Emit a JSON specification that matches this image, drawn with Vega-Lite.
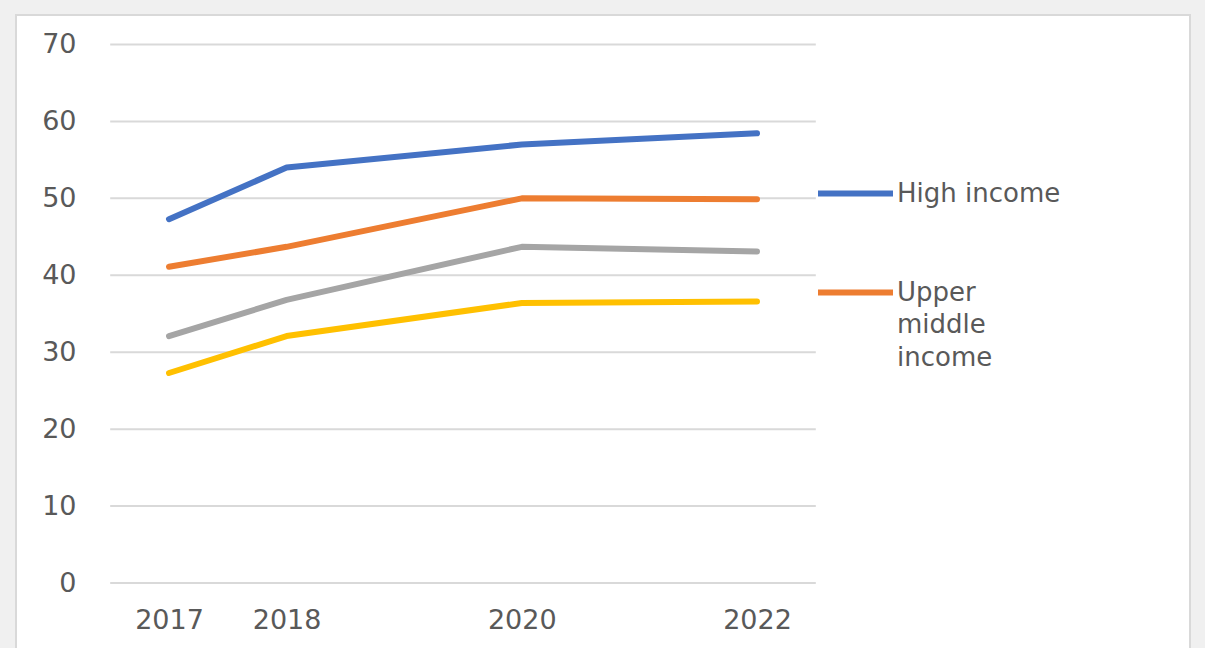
{
  "$schema": "https://vega.github.io/schema/vega-lite/v6.json",
  "width": 1174,
  "height": 636,
  "autosize": {"type": "none"},
  "padding": {"left": 16, "top": 15, "right": 15, "bottom": -3},
  "background": "#f0f0f0",
  "config": {
    "view": {"fill": "white", "stroke": "#d9d9d9", "strokeWidth": 2},
    "font": "DejaVu Sans",
    "style": {"guide-label": {"lineHeight": 32.5}}
  },
  "datasets": {
    "series": [
      {"series": "High income", "year": 2017, "value": 47.3},
      {"series": "High income", "year": 2018, "value": 54.0},
      {"series": "High income", "year": 2020, "value": 57.0},
      {"series": "High income", "year": 2022, "value": 58.45},
      {"series": "Upper middle income", "year": 2017, "value": 41.1},
      {"series": "Upper middle income", "year": 2018, "value": 43.7},
      {"series": "Upper middle income", "year": 2020, "value": 50.0},
      {"series": "Upper middle income", "year": 2022, "value": 49.9},
      {"series": "Lower middle income", "year": 2017, "value": 32.1},
      {"series": "Lower middle income", "year": 2018, "value": 36.8},
      {"series": "Lower middle income", "year": 2020, "value": 43.7},
      {"series": "Lower middle income", "year": 2022, "value": 43.1},
      {"series": "Low income", "year": 2017, "value": 27.3},
      {"series": "Low income", "year": 2018, "value": 32.1},
      {"series": "Low income", "year": 2020, "value": 36.4},
      {"series": "Low income", "year": 2022, "value": 36.6}
    ],
    "grid": [
      {"v": 0}, {"v": 10}, {"v": 20}, {"v": 30}, {"v": 40}, {"v": 50}, {"v": 60}, {"v": 70}
    ]
  },
  "layer": [
    {
      "data": {"name": "grid"},
      "mark": {"type": "rule", "color": "#d9d9d9", "strokeWidth": 2},
      "encoding": {
        "y": {
          "field": "v",
          "type": "quantitative",
          "scale": {"domain": [-8.839, 73.835], "nice": false, "zero": false},
          "axis": {
            "values": [0, 10, 20, 30, 40, 50, 60, 70],
            "title": null,
            "grid": false,
            "domain": false,
            "ticks": false,
            "tickSize": 0,
            "offset": -61,
            "labelPadding": 1,
            "labelFontSize": 27,
            "labelColor": "#595959",
            "labelFont": "DejaVu Sans"
          }
        },
        "x": {
          "datum": 2016.5,
          "type": "quantitative",
          "scale": {"domain": [2015.699, 2025.682], "nice": false, "zero": false},
          "axis": {
            "values": [2017, 2018, 2020, 2022],
            "format": "d",
            "title": null,
            "grid": false,
            "domain": false,
            "ticks": false,
            "tickSize": 0,
            "offset": -68,
            "labelPadding": 24,
            "labelFontSize": 27,
            "labelColor": "#595959",
            "labelFont": "DejaVu Sans"
          }
        },
        "x2": {"datum": 2022.5}
      }
    },
    {
      "data": {"name": "series"},
      "mark": {"type": "line", "strokeWidth": 6, "strokeCap": "round", "strokeJoin": "round"},
      "encoding": {
        "x": {
          "field": "year",
          "type": "quantitative",
          "axis": {
            "values": [2017, 2018, 2020, 2022],
            "format": "d",
            "title": null,
            "grid": false,
            "domain": false,
            "ticks": false,
            "tickSize": 0,
            "offset": -68,
            "labelPadding": 24,
            "labelFontSize": 27,
            "labelColor": "#595959",
            "labelFont": "DejaVu Sans"
          }
        },
        "y": {"field": "value", "type": "quantitative"},
        "color": {
          "field": "series",
          "type": "nominal",
          "scale": {
            "domain": ["High income", "Upper middle income", "Lower middle income", "Low income"],
            "range": ["#4472c4", "#ed7d31", "#a5a5a5", "#ffc000"]
          },
          "legend": {
            "orient": "none",
            "legendX": 799,
            "legendY": 138,
            "title": null,
            "padding": 0,
            "values": ["High income", "Upper middle income"],
            "symbolType": "stroke",
            "symbolSize": 5625,
            "symbolStrokeWidth": 6,
            "labelFontSize": 26,
            "labelColor": "#595959",
            "labelFont": "DejaVu Sans",
            "labelOffset": 1,
            "labelLimit": 0,
            "labelBaseline": "middle",
            "rowPadding": 45,
            "labelExpr": "datum.label == 'Upper middle income' ? ['Upper', 'middle', 'income'] : datum.label"
          }
        }
      }
    }
  ]
}
